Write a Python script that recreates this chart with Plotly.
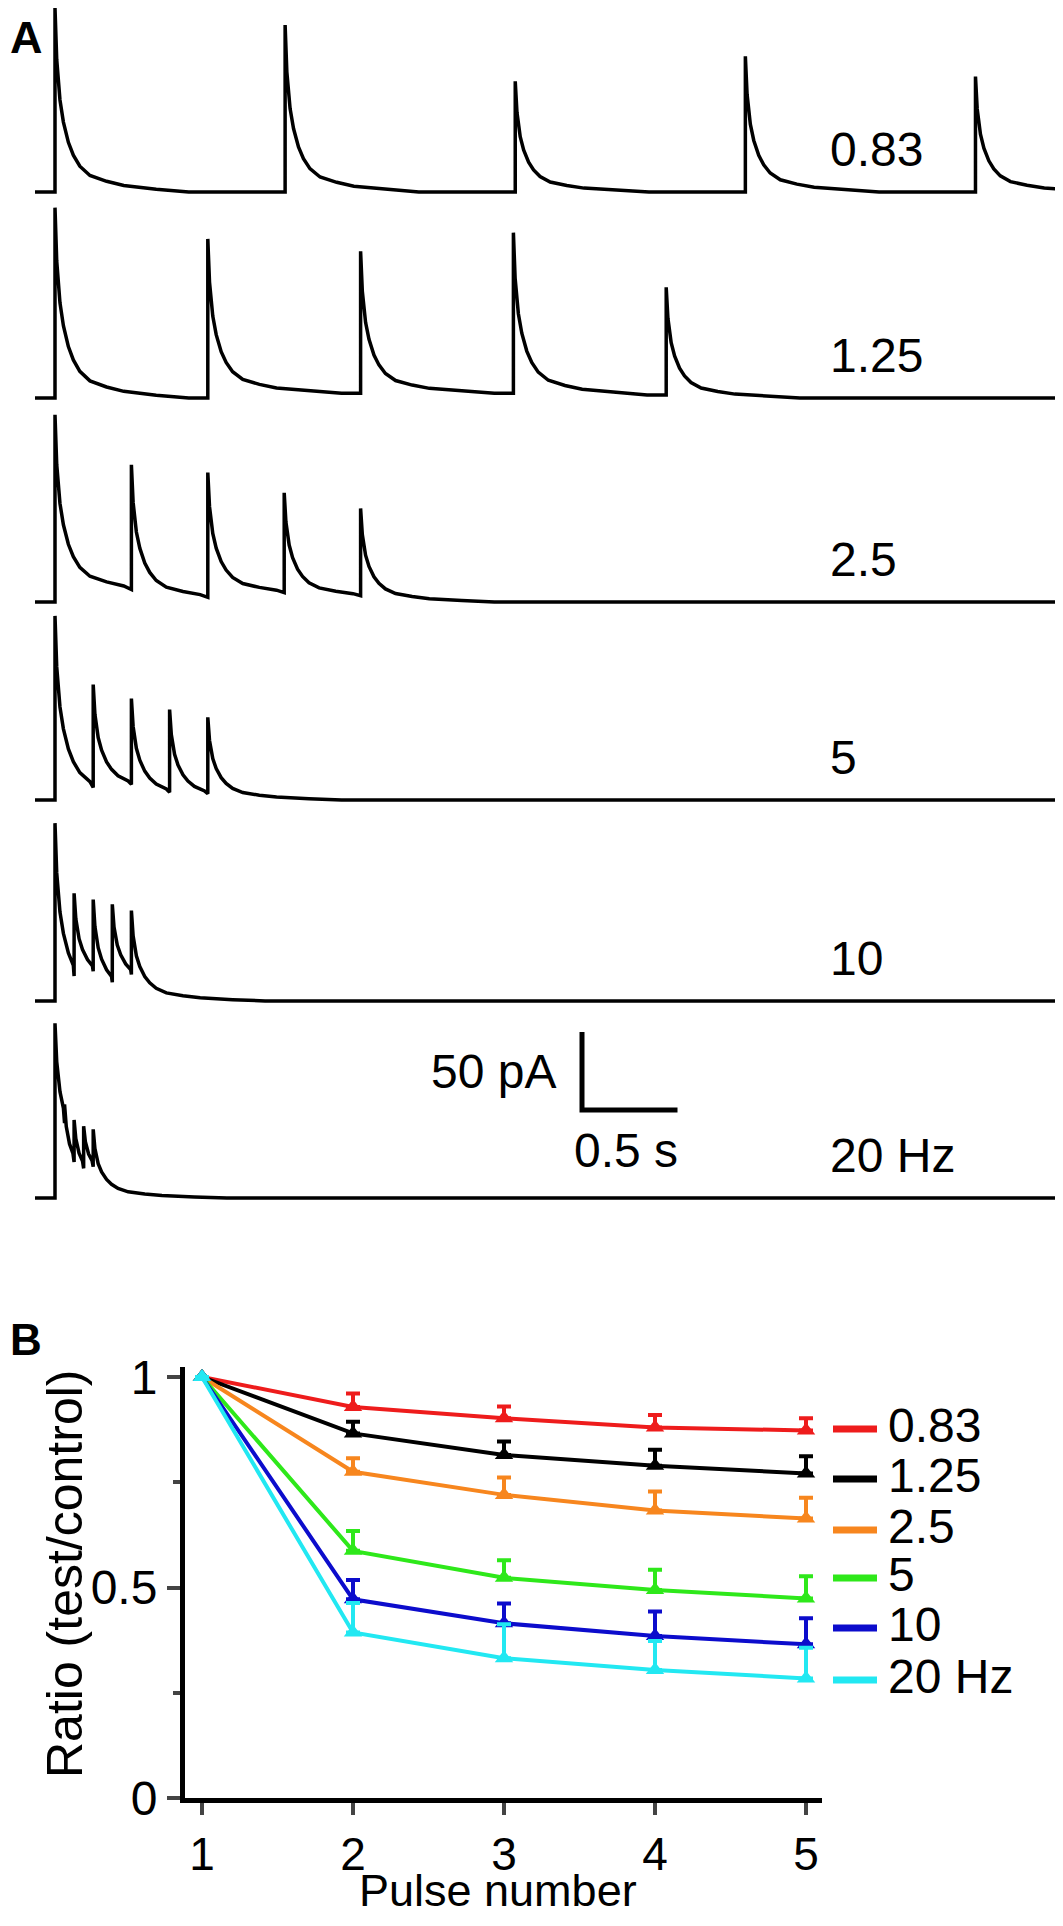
import plotly.graph_objects as go

# ---- Panel A : EPSC trains (pA) ----
freqs = [0.83, 1.25, 2.5, 5, 10, 20]
row_labels = ["0.83", "1.25", "2.5", "5", "10", "20 Hz"]
peaks_pa = [
    [118, 107, 71, 87, 74],
    [122, 102, 94, 106, 71],
    [120, 88, 83, 70, 60],
    [118, 74, 65, 58, 53],
    [114, 69, 65, 62, 58],
    [112, 60, 50, 46, 44],
]
troughs_pa = [
    [0, 0, 0, 0],
    [0, 3, 3, 2],
    [8, 3, 6, 4],
    [8, 10, 5, 4],
    [16, 19, 12, 17],
    [48, 23, 19, 20],
]
# decay of a single response (time after peak in s, fraction of peak)
decay_t = [0, 0.009, 0.026, 0.044, 0.07, 0.096, 0.13, 0.183, 0.27, 0.36, 0.53, 0.7]
decay_f = [1, 0.72, 0.5, 0.38, 0.27, 0.2, 0.14, 0.09, 0.058, 0.035, 0.015, 0]
scale_pa, scale_s = 50, 0.5

# ---- Panel B : paired-pulse ratio ----
pulses = [1, 2, 3, 4, 5]
series_names = ["0.83", "1.25", "2.5", "5", "10", "20 Hz"]
ratio = [
    [1, 0.929, 0.902, 0.880, 0.873],
    [1, 0.866, 0.815, 0.789, 0.771],
    [1, 0.775, 0.720, 0.683, 0.664],
    [1, 0.587, 0.523, 0.494, 0.474],
    [1, 0.472, 0.415, 0.385, 0.365],
    [1, 0.393, 0.332, 0.304, 0.284],
]
ratio_err = [
    [0, 0.032, 0.028, 0.030, 0.029],
    [0, 0.028, 0.032, 0.038, 0.041],
    [0, 0.032, 0.041, 0.045, 0.049],
    [0, 0.047, 0.042, 0.048, 0.053],
    [0, 0.046, 0.047, 0.058, 0.062],
    [0, 0.070, 0.081, 0.069, 0.073],
]
colors = ["#ee1c1c", "#000000", "#f7861e", "#2ee81a", "#0c0ccc", "#22e8f2"]

# ---- layout constants (pixels of the 1063 x 1926 page) ----
PAGE_W, PAGE_H = 1063, 1926
PAD = 8  # default body margin of the html page
W, H = PAGE_W - 2 * PAD, PAGE_H - 2 * PAD
FONT = "Liberation Sans, Arial, sans-serif"
PX_PER_S = 191.0
PX_PER_PA = 1.56
X0_PX = 55  # first stimulus
row_base_px = [192, 398, 602, 800, 1001, 1198]


def xp(p):
    return (p - PAD) / W


def yp(p):
    return 1 - (p - PAD) / H


def px_to_t(px):
    return (px - X0_PX) / PX_PER_S


def px_to_pa(py):
    return -py / PX_PER_PA


t_start, t_end = px_to_t(35), px_to_t(1055)


def build_trace(freq, peaks, troughs):
    period = 1.0 / freq
    pre = [0.0] + list(troughs)
    post = list(troughs) + [0.0]
    ts, ys = [t_start, 0.0], [0.0, 0.0]
    for i, peak in enumerate(peaks):
        t0 = i * period
        last = i == len(peaks) - 1
        span = decay_t[-1] if last else period
        end = post[i]
        ts += [t0, t0]
        ys += [pre[i], peak]
        inside = [k for k, d in enumerate(decay_t) if 0 < d < span]
        nxt = inside[-1] + 1 if inside else 1
        k_end = decay_f[nxt] if nxt < len(decay_f) else 0.0
        for k in inside:
            s = (decay_f[k] - k_end) / (1 - k_end)
            ts.append(t0 + decay_t[k])
            ys.append(end + (peak - end) * s)
        ts.append(t0 + span)
        ys.append(end)
    ts.append(t_end)
    ys.append(0.0)
    return ts, ys


fig = go.Figure()

for r, freq in enumerate(freqs):
    ts, ys = build_trace(freq, peaks_pa[r], troughs_pa[r])
    offset = px_to_pa(row_base_px[r])
    fig.add_trace(
        go.Scatter(
            x=ts,
            y=[v + offset for v in ys],
            mode="lines",
            line=dict(color="black", width=3.5),
            xaxis="x",
            yaxis="y",
            showlegend=False,
            hoverinfo="skip",
        )
    )

# scale bar
sb_t = px_to_t(582)
sb_y = px_to_pa(1110)
fig.add_trace(
    go.Scatter(
        x=[sb_t, sb_t, sb_t + scale_s],
        y=[sb_y + scale_pa, sb_y, sb_y],
        mode="lines",
        line=dict(color="black", width=5),
        xaxis="x",
        yaxis="y",
        showlegend=False,
        hoverinfo="skip",
    )
)

# panel B series
for name, vals, err, col in zip(series_names, ratio, ratio_err, colors):
    fig.add_trace(
        go.Scatter(
            x=pulses,
            y=vals,
            name=name,
            mode="lines+markers",
            line=dict(color=col, width=4),
            marker=dict(symbol="triangle-up", size=16, color=col),
            error_y=dict(
                type="data",
                symmetric=False,
                array=err,
                arrayminus=[0] * len(err),
                color=col,
                thickness=4,
                width=7,
            ),
            xaxis="x2",
            yaxis="y2",
            showlegend=False,
        )
    )

annotations = []
# row labels (panel A)
for r, lab in enumerate(row_labels):
    annotations.append(
        dict(
            x=xp(828),
            y=yp(row_base_px[r] - 43),
            xref="paper",
            yref="paper",
            text=lab,
            showarrow=False,
            xanchor="left",
            yanchor="middle",
            font=dict(size=48, family=FONT, color="black"),
        )
    )
annotations += [
    dict(x=px_to_t(558), y=px_to_pa(1071), xref="x", yref="y", text="50 pA",
         showarrow=False, xanchor="right", yanchor="middle",
         font=dict(size=48, family=FONT, color="black")),
    dict(x=px_to_t(626), y=px_to_pa(1150), xref="x", yref="y", text="0.5 s",
         showarrow=False, xanchor="center", yanchor="middle",
         font=dict(size=48, family=FONT, color="black")),
    dict(x=0, y=yp(38), xref="paper", yref="paper", text="<b>A</b>",
         showarrow=False, xanchor="left", yanchor="middle",
         font=dict(size=45, family=FONT, color="black")),
    dict(x=0, y=yp(1339), xref="paper", yref="paper", text="<b>B</b>",
         showarrow=False, xanchor="left", yanchor="middle",
         font=dict(size=44, family=FONT, color="black")),
    dict(x=xp(65), y=yp(1574), xref="paper", yref="paper",
         text="Ratio (test/control)", textangle=-90, showarrow=False,
         xanchor="center", yanchor="middle",
         font=dict(size=50, family=FONT, color="black")),
    dict(x=xp(498), y=yp(1890), xref="paper", yref="paper",
         text="Pulse number", showarrow=False, xanchor="center", yanchor="middle",
         font=dict(size=45, family=FONT, color="black")),
]

# manual legend for panel B
legend_line_px = [1429, 1479, 1530, 1578, 1628, 1680]
shapes = []
for name, col, ly in zip(series_names, colors, legend_line_px):
    shapes.append(
        dict(type="line", xref="paper", yref="paper",
             x0=xp(833), x1=xp(877), y0=yp(ly), y1=yp(ly),
             line=dict(color=col, width=7))
    )
    annotations.append(
        dict(x=xp(886), y=yp(ly - 4), xref="paper", yref="paper", text=name,
             showarrow=False, xanchor="left", yanchor="middle",
             font=dict(size=48, family=FONT, color="black"))
    )

fig.update_layout(
    width=W,
    height=H,
    margin=dict(l=0, r=0, t=0, b=0),
    paper_bgcolor="white",
    plot_bgcolor="rgba(0,0,0,0)",
    font=dict(family=FONT, color="black"),
    showlegend=False,
    xaxis=dict(
        domain=[0, 1],
        range=[px_to_t(PAD), px_to_t(PAGE_W - PAD)],
        visible=False,
        fixedrange=True,
    ),
    yaxis=dict(
        domain=[0, 1],
        range=[px_to_pa(PAGE_H - PAD), px_to_pa(PAD)],
        visible=False,
        fixedrange=True,
    ),
    xaxis2=dict(
        domain=[xp(185), xp(822)],
        range=[1 - (202 - 185) / 151, 1 + (822 - 202) / 151],
        anchor="y2",
        tickvals=pulses,
        ticks="outside",
        ticklen=12,
        tickwidth=4,
        showline=True,
        linewidth=5,
        linecolor="black",
        showgrid=False,
        zeroline=False,
        automargin=False,
        tickfont=dict(size=46, family=FONT),
    ),
    yaxis2=dict(
        domain=[yp(1798), yp(1367)],
        range=[0, (1798 - 1367) / 421],
        anchor="x2",
        tickvals=[0, 0.5, 1],
        ticktext=["0", "0.5", "1"],
        ticks="outside",
        ticklen=13,
        tickwidth=4,
        minor=dict(tickvals=[0.25, 0.75], ticks="outside", ticklen=7, tickwidth=4),
        showline=True,
        linewidth=5,
        linecolor="black",
        showgrid=False,
        zeroline=False,
        automargin=False,
        tickfont=dict(size=48, family=FONT),
    ),
    annotations=annotations,
    shapes=shapes,
)

fig.write_html("out.html")
